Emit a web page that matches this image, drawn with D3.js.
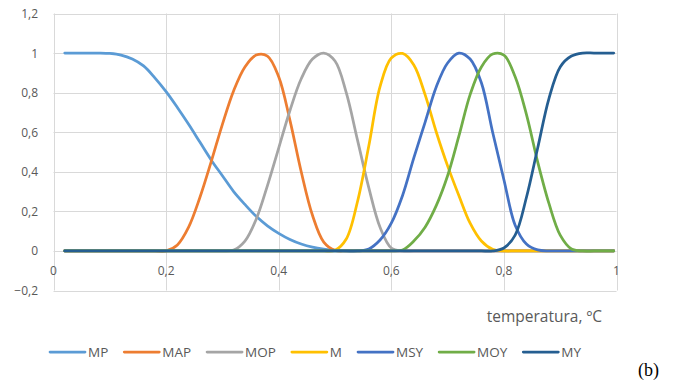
<!DOCTYPE html>
<html><head><meta charset="utf-8">
<script src="https://cdn.jsdelivr.net/npm/d3@7"></script>
<style>html,body{margin:0;padding:0;background:#fff;}svg{display:block;}</style>
</head><body>
<svg id="chart" width="680" height="383"></svg>
<script>
// ---- data ----
const xValues = [0.02,0.04,0.06,0.08,0.10,0.12,0.14,0.16,0.18,0.20,0.22,0.24,0.26,0.28,0.30,0.32,0.34,0.36,0.38,0.40,0.42,0.44,0.46,0.48,0.50,0.52,0.54,0.56,0.58,0.60,0.62,0.64,0.66,0.68,0.70,0.72,0.74,0.76,0.78,0.80,0.82,0.84,0.86,0.88,0.90,0.92,0.94,0.96,0.98,0.995];
const MP  = [1,1,1,1,0.998,0.99,0.97,0.935,0.875,0.805,0.725,0.64,0.55,0.46,0.38,0.30,0.235,0.175,0.127,0.089,0.058,0.035,0.019,0.009,0.003,0,0,0,0,0,0,0,0,0,0,0,0,0,0,0,0,0,0,0,0,0,0,0,0,0];
const MAP = [0,0,0,0,0,0,0,0,0,0,0.03,0.12,0.27,0.45,0.64,0.81,0.93,0.99,0.985,0.88,0.66,0.40,0.18,0.045,0.003,0,0,0,0,0,0,0,0,0,0,0,0,0,0,0,0,0,0,0,0,0,0,0,0,0];
const MOP = [0,0,0,0,0,0,0,0,0,0,0,0,0,0,0,0.005,0.05,0.16,0.33,0.52,0.71,0.87,0.97,1.0,0.96,0.80,0.56,0.32,0.12,0.015,0,0,0,0,0,0,0,0,0,0,0,0,0,0,0,0,0,0,0,0];
const M   = [0,0,0,0,0,0,0,0,0,0,0,0,0,0,0,0,0,0,0,0,0,0,0,0,0.003,0.06,0.25,0.53,0.83,0.975,0.998,0.94,0.79,0.60,0.43,0.28,0.14,0.05,0.008,0,0,0,0,0,0,0,0,0,0,0];
const MSY = [0,0,0,0,0,0,0,0,0,0,0,0,0,0,0,0,0,0,0,0,0,0,0,0,0,0,0,0.01,0.055,0.14,0.28,0.47,0.65,0.83,0.95,1.0,0.97,0.85,0.60,0.36,0.13,0.035,0.005,0,0,0,0,0,0,0];
const MOY = [0,0,0,0,0,0,0,0,0,0,0,0,0,0,0,0,0,0,0,0,0,0,0,0,0,0,0,0,0,0,0.005,0.05,0.12,0.23,0.38,0.58,0.79,0.93,0.995,0.99,0.88,0.69,0.45,0.24,0.08,0.01,0,0,0,0];
const MY  = [0,0,0,0,0,0,0,0,0,0,0,0,0,0,0,0,0,0,0,0,0,0,0,0,0,0,0,0,0,0,0,0,0,0,0,0,0,0,0,0.015,0.08,0.27,0.52,0.77,0.93,0.985,1.0,1.0,1.0,1.0];
const seriesNames = ["MP","MAP","MOP","M","MSY","MOY","MY"];
const seriesValues = [MP, MAP, MOP, M, MSY, MOY, MY];
const seriesColors = ["#5B9BD5","#ED7D31","#A5A5A5","#FFC000","#4472C4","#70AD47","#255E91"];
const xTicks = [0,0.2,0.4,0.6,0.8,1];
const yTicks = [-0.2,0,0.2,0.4,0.6,0.8,1,1.2];
const xTitle = "temperatura, ºC";
const panelLabel = "(b)";

// ---- drawing ----
const svg = d3.select("#chart");
const font = "'Open Sans', 'Noto Sans', sans-serif";
const x = d3.scaleLinear().domain([0,1]).range([53.5,616.5]);
const y = d3.scaleLinear().domain([-0.2,1.2]).range([290.5,13.5]);
const fmt = v => d3.format("~g")(+v.toFixed(2)).replace(".", ",");

const grid = svg.append("g");
grid.selectAll("line.v").data(xTicks).join("line")
  .attr("x1", d => Math.round(x(d))+0.5).attr("x2", d => Math.round(x(d))+0.5)
  .attr("y1", y(1.2)).attr("y2", y(-0.2))
  .attr("stroke", "#D9D9D9").attr("stroke-width", 1);
grid.selectAll("line.h").data(yTicks).join("line")
  .attr("y1", d => Math.round(y(d))+0.5).attr("y2", d => Math.round(y(d))+0.5)
  .attr("x1", x(0)).attr("x2", x(1))
  .attr("stroke", "#D9D9D9").attr("stroke-width", 1);

// y tick labels
svg.append("g").selectAll("text").data(yTicks).join("text")
  .attr("x", 38).attr("y", d => y(d)).attr("text-anchor","end")
  .attr("dominant-baseline","central")
  .attr("font-family", font).attr("font-size", 12).attr("fill","#595959")
  .text(fmt);
// x tick labels (axis crosses at 0)
svg.append("g").selectAll("text").data(xTicks).join("text")
  .attr("x", d => x(d)).attr("y", y(0) + 20).attr("text-anchor","middle")
  .attr("dominant-baseline","central")
  .attr("font-family", font).attr("font-size", 12).attr("fill","#595959")
  .text(fmt);

// series lines
const line = d3.line().x((d,i) => x(xValues[i])).y(d => y(d)).curve(d3.curveCatmullRom.alpha(0.5));
svg.append("g").selectAll("path").data(seriesValues).join("path")
  .attr("d", d => line(d)).attr("fill","none")
  .attr("stroke", (d,i) => seriesColors[i]).attr("stroke-width", 2.75)
  .attr("stroke-linecap","round").attr("stroke-linejoin","round");

// axis title
svg.append("text").attr("x", 602).attr("y", 316).attr("text-anchor","end")
  .attr("dominant-baseline","central")
  .attr("font-family", font).attr("font-size", 15.5).attr("fill","#595959")
  .text(xTitle);

// legend
const lg = svg.append("g");
let lx = 50;
seriesNames.forEach((name, i) => {
  lg.append("line").attr("x1", lx).attr("x2", lx+35).attr("y1", 352).attr("y2", 352)
    .attr("stroke", seriesColors[i]).attr("stroke-width", 2.75).attr("stroke-linecap","round");
  const t = lg.append("text").attr("x", lx+38).attr("y", 352)
    .attr("dominant-baseline","central")
    .attr("font-family", font).attr("font-size", 13.5).attr("fill","#595959").text(name);
  lx += 38 + t.node().getComputedTextLength() + 16;
});

// panel label
svg.append("text").attr("x", 638).attr("y", 376).attr("font-family","'Liberation Serif', 'Times New Roman', serif")
  .attr("font-size", 18).attr("fill","#000").text(panelLabel);
</script>
</body></html>
